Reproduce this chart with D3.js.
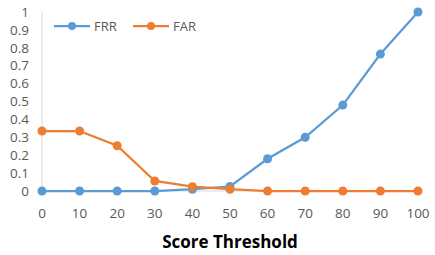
<!DOCTYPE html>
<html>
<head>
<meta charset="utf-8">
<script src="https://cdn.jsdelivr.net/npm/d3@7"></script>
<style>
  body { margin: 0; background: #fff; }
  text { font-family: "Open Sans", "Liberation Sans", sans-serif; }
</style>
</head>
<body>
<svg id="chart" width="435" height="255"></svg>
<script>
const thresholds = [0, 10, 20, 30, 40, 50, 60, 70, 80, 90, 100];
const frr = [0, 0, 0, 0, 0.01, 0.025, 0.18, 0.3, 0.48, 0.765, 1];
const far = [0.335, 0.335, 0.253, 0.056, 0.024, 0.01, 0, 0, 0, 0, 0];
const yTicks = [0, 0.1, 0.2, 0.3, 0.4, 0.5, 0.6, 0.7, 0.8, 0.9, 1];

const svg = d3.select("#chart");
const x = d3.scalePoint().domain(thresholds).range([42, 418]);
const y = d3.scaleLinear().domain([0, 1]).range([191, 12]);

const series = [
    { name: "FRR", values: frr, color: "#5B9BD5" },
    { name: "FAR", values: far, color: "#ED7D31" }
];

// y axis line
svg.append("line")
    .attr("x1", 42).attr("x2", 42)
    .attr("y1", y(1)).attr("y2", y(0))
    .attr("stroke", "#d9d9d9").attr("stroke-width", 1);

// x axis line
svg.append("line")
    .attr("x1", 42).attr("x2", 418)
    .attr("y1", y(0)).attr("y2", y(0))
    .attr("stroke", "#d9d9d9").attr("stroke-width", 1);

// y tick labels
svg.selectAll(".ylab")
    .data(yTicks)
    .enter()
    .append("text")
    .attr("x", 29)
    .attr("y", d => y(d))
    .attr("dy", "0.35em")
    .attr("text-anchor", "end")
    .attr("font-size", 13.5)
    .attr("fill", "#595959")
    .text(d => d);

// x tick labels
svg.selectAll(".xlab")
    .data(thresholds)
    .enter()
    .append("text")
    .attr("x", d => x(d))
    .attr("y", 213)
    .attr("dy", "0.35em")
    .attr("text-anchor", "middle")
    .attr("font-size", 13.5)
    .attr("fill", "#595959")
    .text(d => d);

// axis title
svg.append("text")
    .attr("x", 230).attr("y", 242)
    .attr("dy", "0.35em")
    .attr("text-anchor", "middle")
    .attr("font-size", 17)
    .attr("font-weight", "bold")
    .attr("fill", "#000")
    .text("Score Threshold");

const line = d3.line()
    .x((d, i) => x(thresholds[i]))
    .y(d => y(d));

// Draw series
series.forEach(s => {
    svg.append("path")
        .datum(s.values)
        .attr("d", line)
        .attr("fill", "none")
        .attr("stroke", s.color)
        .attr("stroke-width", 2.25);
    svg.selectAll(null)
        .data(s.values)
        .enter()
        .append("circle")
        .attr("cx", (d, i) => x(thresholds[i]))
        .attr("cy", d => y(d))
        .attr("r", 4.5)
        .attr("fill", s.color);
});

// Legend
const legendX = [54, 133];
series.forEach((s, i) => {
    const lg = svg.append("g").attr("transform", `translate(${legendX[i]},26)`);
    lg.append("line")
        .attr("x1", 0).attr("x2", 36)
        .attr("stroke", s.color).attr("stroke-width", 2.25);
    lg.append("circle").attr("cx", 18).attr("r", 4).attr("fill", s.color);
    lg.append("text")
        .attr("x", 40).attr("dy", "0.35em")
        .attr("font-size", 13)
        .attr("fill", "#595959")
        .text(s.name);
});
</script>
</body>
</html>
